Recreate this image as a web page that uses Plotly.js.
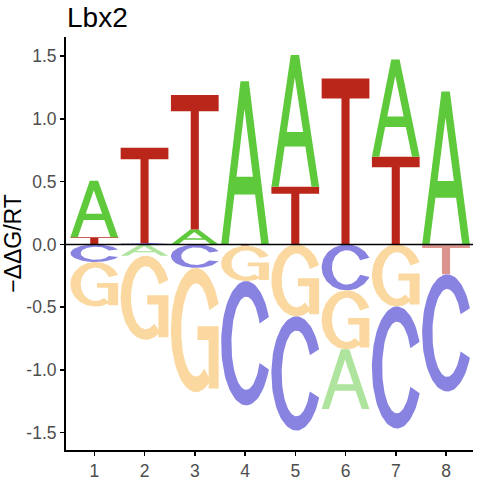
<!DOCTYPE html>
<html>
<head>
<meta charset="utf-8">
<script src="https://cdn.plot.ly/plotly-3.0.1.min.js"></script>
<style>html,body{margin:0;padding:0;background:#fff;}#chart{width:480px;height:480px;}</style>
</head>
<body>
<div id="chart"></div>
<script>
// ---- data ----
const positions = [1, 2, 3, 4, 5, 6, 7, 8];
const positionLabels = ['1', '2', '3', '4', '5', '6', '7', '8'];
const letters = ['A', 'C', 'G', 'T'];
const energyA = [0.45, -0.09, 0.12, 1.30, 1.05, -0.476, 0.776, 1.218];
const energyC = [-0.14, 0.01, -0.187, -0.99, -0.91, -0.366, -0.973, -0.934];
const energyG = [-0.355, -0.67, -0.99, -0.28, -0.573, -0.47, -0.494, 0];
const energyT = [0.058, 0.76, 1.07, -0.012, 0.46, 1.322, 0.698, -0.238];
const yTickValues = [-1.5, -1.0, -0.5, 0, 0.5, 1.0, 1.5];
const yTickLabels = ['-1.5', '-1.0', '-0.5', '0.0', '0.5', '1.0', '1.5'];

// ---- styles ----
const posColor = {A: '#5DC93B', C: '#1010CC', G: '#F5B141', T: '#BB261A'};
const negColor = {A: '#AEE49D', C: '#8883E0', G: '#FAD89F', T: '#DC948E'};
const letterWidth = 0.95;

// ---- glyph outlines in a unit box (lists of closed rings) ----
function arc(cx, cy, rx, ry, a0, a1, n) {
  const pts = [];
  for (let i = 0; i <= n; i++) {
    const a = (a0 + (a1 - a0) * i / n) * Math.PI / 180;
    pts.push([cx + rx * Math.cos(a), cy + ry * Math.sin(a)]);
  }
  return pts;
}
function normalize(rings) {
  let xs = [], ys = [];
  rings.forEach(r => r.forEach(p => { xs.push(p[0]); ys.push(p[1]); }));
  const x0 = Math.min(...xs), x1 = Math.max(...xs), y0 = Math.min(...ys), y1 = Math.max(...ys);
  return rings.map(r => r.map(p => [(p[0] - x0) / (x1 - x0), (p[1] - y0) / (y1 - y0)]));
}
const glyphs = {};
glyphs.T = [[[0, 1], [0, 0.88], [0.415, 0.88], [0.415, 0], [0.585, 0], [0.585, 0.88], [1, 0.88], [1, 1]]];
glyphs.A = [
  [[0, 0], [0.154, 0], [0.278, 0.306], [0.711, 0.306], [0.84, 0], [1, 0], [0.58, 1], [0.405, 1]],
  [[0.322, 0.415], [0.49, 0.83], [0.665, 0.415]]
];
(function () {
  const outerC = arc(0.5, 0.5, 0.5, 0.5, 25, 335, 80);
  const innerC = arc(0.5, 0.5, 0.295, 0.375, 335, 25, 80);
  glyphs.C = normalize([outerC.concat(innerC)]);
  const outerG = arc(0.5, 0.5, 0.5, 0.5, 25, 305, 80);
  const innerG = arc(0.5, 0.5, 0.295, 0.375, 305, 25, 80);
  const xr = 0.5 + 0.5 * Math.cos(25 * Math.PI / 180);
  const bar = [[0.53, 0.42], [xr - 0.2, 0.42], [xr - 0.2, 0.03], [xr, 0.03], [xr, 0.53], [0.53, 0.53]];
  glyphs.G = normalize([outerG.concat(innerG), bar]);
})();

// ---- build traces ----
const energy = {A: energyA, C: energyC, G: energyG, T: energyT};
const traces = [];
function addLetter(letter, xc, yBottom, h, color) {
  const xs = [], ys = [];
  glyphs[letter].forEach((ring, k) => {
    if (k > 0) { xs.push(null); ys.push(null); }
    ring.forEach(p => { xs.push(xc - letterWidth / 2 + p[0] * letterWidth); ys.push(yBottom + p[1] * h); });
    xs.push(xc - letterWidth / 2 + ring[0][0] * letterWidth); ys.push(yBottom + ring[0][1] * h);
  });
  traces.push({
    type: 'scatter', mode: 'lines', x: xs, y: ys, fill: 'toself', fillcolor: color,
    line: {width: 0, color: color}, hoverinfo: 'skip', showlegend: false
  });
}
positions.forEach((p, i) => {
  const vals = letters.map(l => ({l: l, v: energy[l][i]}));
  const pos = vals.filter(d => d.v > 0).sort((a, b) => a.v - b.v);
  const neg = vals.filter(d => d.v < 0).sort((a, b) => b.v - a.v);
  let cum = 0;
  pos.forEach(d => { addLetter(d.l, p, cum, d.v, posColor[d.l]); cum += d.v; });
  cum = 0;
  neg.forEach(d => { addLetter(d.l, p, cum + d.v, -d.v, negColor[d.l]); cum += d.v; });
});

const axisCommon = {
  showgrid: false, zeroline: false, showline: true, linecolor: '#000', linewidth: 2,
  ticks: 'outside', ticklen: 4, tickwidth: 1.5, tickcolor: '#000',
  tickfont: {family: 'Liberation Sans, Arial, sans-serif', size: 17.5, color: '#4D4D4D'},
  fixedrange: true
};
const layout = {
  width: 480, height: 480,
  margin: {l: 66, r: 7, t: 37, b: 30},
  paper_bgcolor: '#fff', plot_bgcolor: '#fff',
  font: {family: 'Liberation Sans, Arial, sans-serif'},
  title: {text: 'Lbx2', x: 67 / 480, xanchor: 'left', xref: 'container', y: 1 - 17 / 480, yanchor: 'middle', yref: 'container',
          font: {size: 28, color: '#000'}},
  xaxis: Object.assign({}, axisCommon, {range: [0.437, 8.537], tickvals: positions, ticktext: positionLabels}),
  yaxis: Object.assign({}, axisCommon, {range: [-1.638, 1.653], tickvals: yTickValues, ticktext: yTickLabels,
    title: {text: '\u2212\u0394\u0394G/RT', font: {size: 23, color: '#000'}, standoff: 4}}),
  shapes: [{type: 'line', xref: 'paper', x0: 0, x1: 1, yref: 'y', y0: 0, y1: 0, layer: 'above',
            line: {color: '#000', width: 1.5}}]
};
Plotly.newPlot('chart', traces, layout, {displayModeBar: false, staticPlot: true});
</script>
</body>
</html>
